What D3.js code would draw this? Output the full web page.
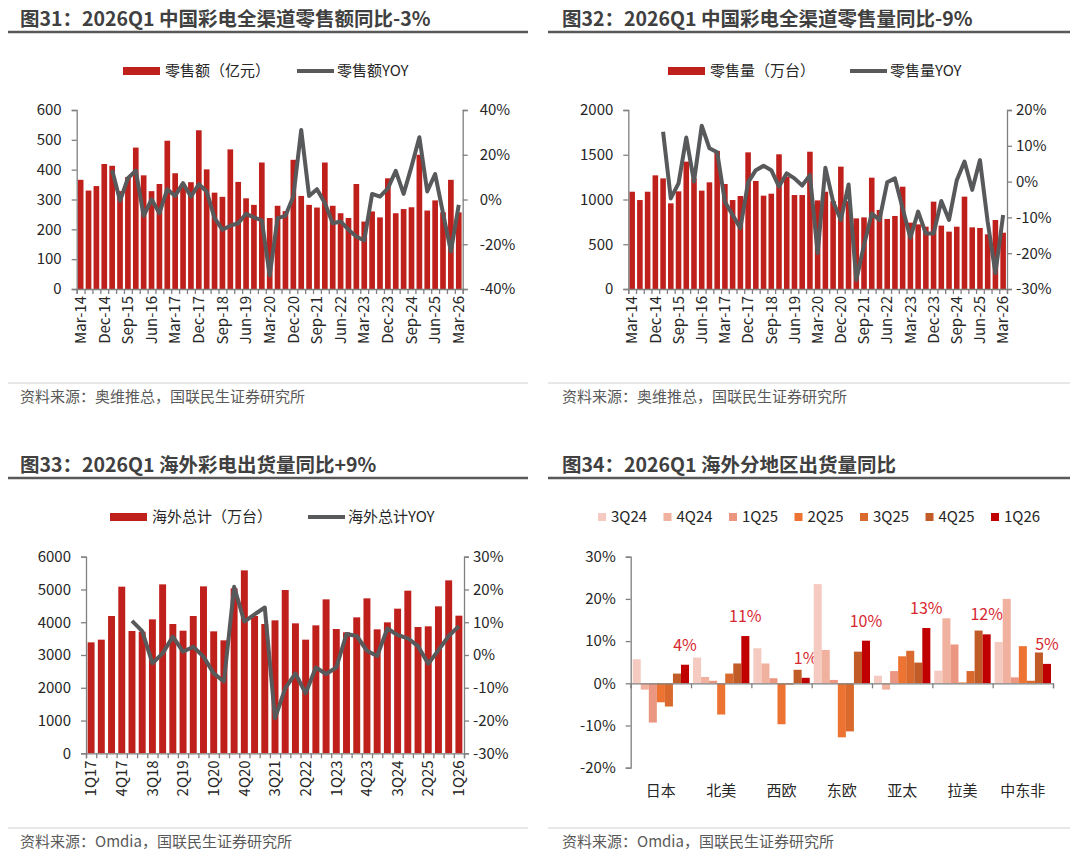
<!DOCTYPE html>
<html>
<head>
<meta charset="utf-8">
<script src="https://cdn.jsdelivr.net/npm/d3@7"></script>
<style>
  body { margin: 0; background: #fff; }
  svg text { font-family: "Noto Sans CJK SC", "Noto Sans", sans-serif; }
</style>
</head>
<body>
<svg id="chart" width="1080" height="855"></svg>
<script>
// quarters for the China retail charts (Mar-14 .. Mar-26)
const cnQuarters = ['Mar-14','Jun-14','Sep-14','Dec-14','Mar-15','Jun-15','Sep-15','Dec-15','Mar-16','Jun-16','Sep-16','Dec-16',
  'Mar-17','Jun-17','Sep-17','Dec-17','Mar-18','Jun-18','Sep-18','Dec-18','Mar-19','Jun-19','Sep-19','Dec-19',
  'Mar-20','Jun-20','Sep-20','Dec-20','Mar-21','Jun-21','Sep-21','Dec-21','Mar-22','Jun-22','Sep-22','Dec-22',
  'Mar-23','Jun-23','Sep-23','Dec-23','Mar-24','Jun-24','Sep-24','Dec-24','Mar-25','Jun-25','Sep-25','Dec-25','Mar-26']

// 零售额（亿元）
const retailValue = [366,330,345,419,413,328,375,474,381,328,352,497,388,350,358,532,401,323,309,468,359,304,282,424,
  238,279,261,433,312,282,273,424,279,254,238,352,226,260,240,371,254,268,274,450,263,297,257,366,257]
// 零售额YOY (%), from Mar-15
const retailValueYoy = [13.2,-0.6,9.5,12.9,-7.3,0.1,-6.1,4.6,1.6,7.3,1.3,6.8,3.6,-8.3,-13.5,-11.7,-10.6,-6.4,-8.0,-9.3,
  -34,-8.3,-7.3,1.3,31.1,1.6,4.6,-1.6,-10.6,-9.8,-13.5,-16.5,-18.3,2.5,1.3,5,12.8,2.5,14.7,27.8,3.6,11.4,-6.1,-23.2,-2.4]

// 零售量（万台）
const retailVolume = [1087,994,1087,1270,1236,957,1091,1423,1236,1099,1192,1542,1173,994,1039,1527,1207,1043,1065,1505,1255,1050,1050,1534,
  990,1087,983,1367,982,789,800,1244,883,782,816,1143,741,722,696,976,708,641,696,1032,689,682,611,771,629]
// 零售量YOY (%), from Mar-15
const retailVolumeYoy = [13.9,-4.7,-0.5,12.3,0.0,15.6,9.3,8.2,-5.6,-9.3,-13,-0.2,3.2,4.4,3.2,-1.4,2.3,0.9,-1.1,1.8,
  -20,3.9,-5.6,-10.7,-0.8,-27.5,-17.7,-8.9,-10.7,-0.2,0.9,-7.5,-15.7,-8.4,-14.5,-14.5,-5.4,-10.7,0.4,5.6,-2.3,6,-11.2,-25.6,-9.3]

// overseas shipments
const osQuarters = ['1Q17','2Q17','3Q17','4Q17','1Q18','2Q18','3Q18','4Q18','1Q19','2Q19','3Q19','4Q19','1Q20','2Q20','3Q20','4Q20',
  '1Q21','2Q21','3Q21','4Q21','1Q22','2Q22','3Q22','4Q22','1Q23','2Q23','3Q23','4Q23','1Q24','2Q24','3Q24','4Q24','1Q25','2Q25','3Q25','4Q25','1Q26']
const osShipments = [3386,3468,4190,5085,3732,3712,4088,5156,3946,3742,4190,5095,3722,3447,5034,5583,4190,3946,4058,4983,
  3966,3468,3905,4698,3793,3692,4149,4729,3783,3997,4414,4963,3854,3875,4485,5278,4200]
// 海外总计YOY (%), from 1Q18
const osShipmentsYoy = [10.4,7.3,-2.5,0.5,5.6,1,2.5,-0.5,-5.6,-8.1,20.8,10.2,12.4,14.5,-19.3,-10.2,-5.6,-11.7,-3.8,-5.8,
  -3.8,6.4,5.8,1.3,-0.3,8.1,6.1,5.1,2.7,-2.7,1.5,5.8,8.8]

// regional yoy (%)
const regions = ['日本','北美','西欧','东欧','亚太','拉美','中东非']
const regionSeries = ['3Q24','4Q24','1Q25','2Q25','3Q25','4Q25','1Q26']
const regionYoy = {
  '3Q24': [5.7,6.1,8.3,23.5,1.8,3.0,9.8],
  '4Q24': [-1.5,1.5,4.7,7.9,-1.5,15.4,20.0],
  '1Q25': [-9.3,0.6,1.2,0.8,2.9,9.2,1.4],
  '2Q25': [-4.5,-7.4,-9.7,-12.8,6.4,0.2,8.8],
  '3Q25': [-5.5,2.3,-0.3,-11.4,7.7,2.9,0.6],
  '4Q25': [2.3,4.7,3.2,7.5,4.9,12.5,7.3],
  '1Q26': [4.4,11.2,1.3,10.1,13.1,11.6,4.6]
}
const regionColors = ['#f5cac1','#f0b19f','#eb9680','#ec7332','#d9692d','#c15b28','#c00000']

const BAR_RED = '#c0201c'
const LINE_GRAY = '#58595b'
const AXIS_GRAY = '#808080'
const TEXT_DARK = '#262626'

const svg = d3.select('#chart')

function styleAxis(sel, size) {
    sel.attr('font-family', null).attr('font-size', size)
    sel.select('.domain').attr('stroke', AXIS_GRAY).attr('stroke-width', 1.3)
    sel.selectAll('.tick line').attr('stroke', AXIS_GRAY).attr('stroke-width', 1.3)
    sel.selectAll('.tick text').attr('fill', TEXT_DARK)
}

function header(x, y, lineX0, lineX1, text, source, sourceY) {
    svg.append('text').attr('x', x).attr('y', y)
        .attr('font-size', 19.5).attr('font-weight', 'bold').attr('fill', '#404040').text(text)
    svg.append('line').attr('x1', lineX0).attr('x2', lineX1).attr('y1', y + 6).attr('y2', y + 6)
        .attr('stroke', '#595959').attr('stroke-width', 2.5)
    svg.append('line').attr('x1', lineX0).attr('x2', lineX1).attr('y1', sourceY - 14).attr('y2', sourceY - 14)
        .attr('stroke', '#d0d0d0').attr('stroke-width', 1)
    svg.append('text').attr('x', x).attr('y', sourceY + 5)
        .attr('font-size', 15).attr('fill', '#595959').text(source)
}

function comboLegend(y, rectX, barName, lineX, lineName) {
    svg.append('rect').attr('x', rectX).attr('y', y - 4).attr('width', 37).attr('height', 8).attr('fill', BAR_RED)
    svg.append('text').attr('x', rectX + 42).attr('y', y).attr('dy', '0.35em')
        .attr('font-size', 15).attr('fill', TEXT_DARK).text(barName)
    svg.append('line').attr('x1', lineX).attr('x2', lineX + 37).attr('y1', y).attr('y2', y)
        .attr('stroke', LINE_GRAY).attr('stroke-width', 4)
    svg.append('text').attr('x', lineX + 40).attr('y', y).attr('dy', '0.35em')
        .attr('font-size', 15).attr('fill', TEXT_DARK).text(lineName)
}

function drawCombo(cfg) {
    const g = svg.append('g')
    const n = cfg.cats.length
    const scaleX = d3.scaleBand().domain(cfg.cats).range([cfg.left, cfg.right])
        .paddingInner(cfg.pad).paddingOuter(cfg.pad / 2)
    const scaleY = d3.scaleLinear().domain([0, cfg.barMax]).range([cfg.bottom, cfg.top])
    const scaleP = d3.scaleLinear().domain([cfg.pctMin, cfg.pctMax]).range([cfg.bottom, cfg.top])
    const mid = d => scaleX(d) + scaleX.bandwidth() / 2

    g.selectAll('rect').data(cfg.cats)
        .join('rect')
        .attr('x', d => scaleX(d))
        .attr('width', scaleX.bandwidth())
        .attr('y', (d, i) => scaleY(cfg.bars[i]))
        .attr('height', (d, i) => cfg.bottom - scaleY(cfg.bars[i]))
        .attr('fill', BAR_RED)

    const yoyCats = cfg.cats.slice(n - cfg.yoy.length)
    const lineGenerator = d3.line().x((d, i) => mid(yoyCats[i])).y(d => scaleP(d))
    g.append('path').attr('d', lineGenerator(cfg.yoy))
        .attr('fill', 'none').attr('stroke', LINE_GRAY).attr('stroke-width', 4)
        .attr('stroke-linejoin', 'round')

    g.append('g').attr('transform', `translate(${cfg.left},0)`)
        .call(d3.axisLeft(scaleY).tickValues(d3.range(0, cfg.barMax + 1, cfg.barStep))
            .tickSize(5).tickPadding(10).tickFormat(d3.format('d')))
        .call(a => styleAxis(a, 15))
    g.append('g').attr('transform', `translate(${cfg.right},0)`)
        .call(d3.axisRight(scaleP).tickValues(d3.range(cfg.pctMin, cfg.pctMax + 1, cfg.pctStep))
            .tickSize(5).tickPadding(cfg.rightPad).tickFormat(d => d + '%'))
        .call(a => styleAxis(a, 15))

    // small ticks between every bar
    const scaleIdx = d3.scaleLinear().domain([0, n]).range([cfg.left, cfg.right])
    g.append('g').attr('transform', `translate(0,${cfg.bottom})`)
        .call(d3.axisBottom(scaleIdx).tickValues(d3.range(n + 1)).tickSize(5).tickFormat(''))
        .call(a => styleAxis(a, 14))

    g.append('g').attr('transform', `translate(0,${cfg.bottom})`)
        .call(d3.axisBottom(scaleX).tickValues(cfg.cats.filter((d, i) => i % 3 === 0)).tickSize(0))
        .call(a => styleAxis(a, cfg.labelSize))
        .call(a => a.select('.domain').remove())
        .selectAll('text')
        .attr('transform', 'rotate(-90)')
        .attr('x', -7).attr('y', 0).attr('dy', '0.35em')
        .attr('text-anchor', 'end')
}

// ---- 图31
header(20, 26, 8, 528, '图31：2026Q1 中国彩电全渠道零售额同比-3%', '资料来源：奥维推总，国联民生证券研究所', 397)
comboLegend(71, 123, '零售额（亿元）', 297, '零售额YOY')
drawCombo({cats: cnQuarters, bars: retailValue, yoy: retailValueYoy,
    left: 76.7, right: 462.7, top: 110, bottom: 289, pad: 0.28,
    barMax: 600, barStep: 100, pctMin: -40, pctMax: 40, pctStep: 20, rightPad: 12, labelSize: 15})

// ---- 图32
header(562, 26, 548, 1070, '图32：2026Q1 中国彩电全渠道零售量同比-9%', '资料来源：奥维推总，国联民生证券研究所', 397)
comboLegend(71, 668, '零售量（万台）', 850, '零售量YOY')
drawCombo({cats: cnQuarters, bars: retailVolume, yoy: retailVolumeYoy,
    left: 628.3, right: 1007, top: 110, bottom: 289, pad: 0.28,
    barMax: 2000, barStep: 500, pctMin: -30, pctMax: 20, pctStep: 10, rightPad: 4, labelSize: 15})

// ---- 图33
header(20, 472, 8, 528, '图33：2026Q1 海外彩电出货量同比+9%', '资料来源：Omdia，国联民生证券研究所', 842)
comboLegend(517, 110, '海外总计（万台）', 308, '海外总计YOY')
drawCombo({cats: osQuarters, bars: osShipments, yoy: osShipmentsYoy,
    left: 86, right: 464, top: 556.7, bottom: 753.3, pad: 0.32,
    barMax: 6000, barStep: 1000, pctMin: -30, pctMax: 30, pctStep: 10, rightPad: 4, labelSize: 15})

// ---- 图34
header(562, 472, 548, 1070, '图34：2026Q1 海外分地区出货量同比', '资料来源：Omdia，国联民生证券研究所', 842)

const regionLeft = 630.7, regionRight = 1053, regionTop = 556.7, regionBottom = 767.7
const regionX = d3.scaleBand().domain(regions).range([regionLeft, regionRight]).paddingInner(0.066).paddingOuter(0.033)
const seriesX = d3.scaleBand().domain(regionSeries).range([0, regionX.bandwidth()])
const regionY = d3.scaleLinear().domain([-20, 30]).range([regionBottom, regionTop])

const legend = svg.append('g')
legend.selectAll('g').data(regionSeries)
    .join('g')
    .attr('transform', (d, i) => `translate(${598 + i * 65.5},517)`)
    .each(function (d, i) {
        d3.select(this).append('rect').attr('x', 0).attr('y', -4).attr('width', 8).attr('height', 8)
            .attr('fill', regionColors[i])
        d3.select(this).append('text').attr('x', 13).attr('dy', '0.35em')
            .attr('font-size', 15).attr('fill', TEXT_DARK).text(d)
    })

const groups = svg.append('g').selectAll('g').data(regions)
    .join('g')
    .attr('transform', d => `translate(${regionX(d)},0)`)

groups.selectAll('rect')
    .data((r, ri) => regionSeries.map((s, si) => ({s, si, v: regionYoy[s][ri]})))
    .join('rect')
    .attr('x', d => seriesX(d.s))
    .attr('width', seriesX.bandwidth())
    .attr('y', d => regionY(Math.max(0, d.v)))
    .attr('height', d => Math.abs(regionY(d.v) - regionY(0)))
    .attr('fill', d => regionColors[d.si])

groups.append('text')
    .attr('x', seriesX('1Q26') + seriesX.bandwidth() / 2)
    .attr('y', (r, ri) => regionY(regionYoy['1Q26'][ri]) - 14)
    .attr('text-anchor', 'middle')
    .attr('font-size', 16).attr('fill', '#d7282f')
    .text((r, ri) => d3.format('.0f')(regionYoy['1Q26'][ri]) + '%')

svg.append('g').attr('transform', `translate(${regionLeft},0)`)
    .call(d3.axisLeft(regionY).tickValues(d3.range(-20, 31, 10)).tickSize(5).tickPadding(10).tickFormat(d => d + '%'))
    .call(a => styleAxis(a, 15))

const regionIdx = d3.scaleLinear().domain([0, regions.length]).range([regionLeft, regionRight])
svg.append('g').attr('transform', `translate(0,${regionY(0)})`)
    .call(d3.axisBottom(regionIdx).tickValues(d3.range(regions.length + 1)).tickSize(5).tickFormat(''))
    .call(a => styleAxis(a, 14))

svg.append('g').attr('transform', `translate(0,${regionBottom})`)
    .call(d3.axisBottom(regionX).tickSize(0).tickPadding(18))
    .call(a => styleAxis(a, 15))
    .call(a => a.select('.domain').remove())
</script>
</body>
</html>
